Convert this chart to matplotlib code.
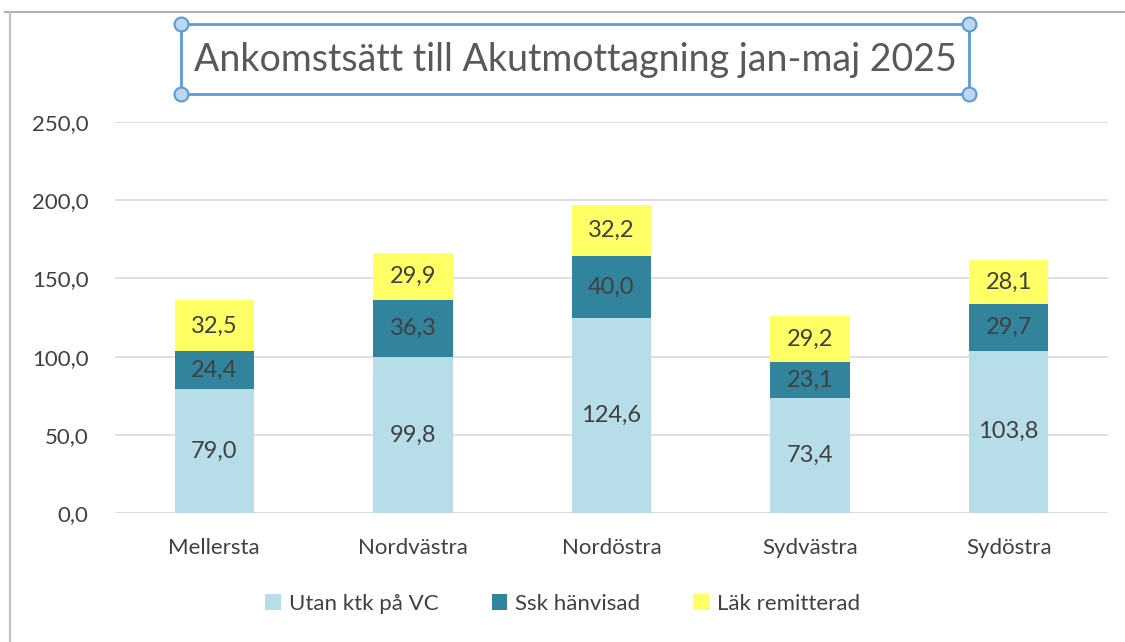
import numpy as np
import matplotlib.pyplot as plt
from matplotlib.patches import Rectangle
from matplotlib.lines import Line2D

plt.rcParams['font.family'] = ['Lato', 'DejaVu Sans']

regions = ['Mellersta', 'Nordvästra', 'Nordöstra', 'Sydvästra', 'Sydöstra']
utan_ktk = [79.0, 99.8, 124.6, 73.4, 103.8]
ssk_hanvisad = [24.4, 36.3, 40.0, 23.1, 29.7]
lak_remitterad = [32.5, 29.9, 32.2, 29.2, 28.1]
series_names = ['Utan ktk på VC', 'Ssk hänvisad', 'Läk remitterad']
yticks = [0, 50, 100, 150, 200, 250]

colors = ['#b7dde8', '#31849b', '#ffff66']
txt = '#404040'

fig = plt.figure(figsize=(11.25, 6.42), dpi=100)
ax = fig.add_axes([115 / 1125, 1 - 513 / 642, 993 / 1125, 391 / 642])

x = np.arange(len(regions))
bottom = np.zeros(len(regions))
for vals, name, c in zip([utan_ktk, ssk_hanvisad, lak_remitterad], series_names, colors):
    bars = ax.bar(x, vals, 0.4, bottom=bottom, color=c, label=name, zorder=2)
    for b, v in zip(bars, vals):
        ax.text(b.get_x() + b.get_width() / 2, b.get_y() + b.get_height() / 2,
                f'{v:.1f}'.replace('.', ','), ha='center', va='center',
                fontsize=17, color=txt, zorder=3)
    bottom += np.array(vals)

ax.set_xlim(-0.5, len(regions) - 0.5)
ax.set_ylim(0, 250)
ax.set_yticks(yticks)
ax.set_yticklabels([f'{t:.1f}'.replace('.', ',') for t in yticks], fontsize=16, color=txt)
ax.set_xticks(x)
ax.set_xticklabels(regions, fontsize=16, color=txt)
ax.tick_params(axis='x', length=0, pad=18)
ax.tick_params(axis='y', length=0, pad=19)
for s in ax.spines.values():
    s.set_visible(False)
ax.grid(axis='y', color='#d9d9d9', linewidth=1.2, zorder=0)
ax.set_axisbelow(True)
ax.axhline(0, color='#d9d9d9', linewidth=1.2, zorder=1)

leg = fig.legend(loc='center', bbox_to_anchor=(0.5, 1 - 604 / 642), ncol=3, frameon=False,
                 fontsize=16, handlelength=0.7, handleheight=0.7, columnspacing=2.4,
                 handletextpad=0.35)
for t in leg.get_texts():
    t.set_color(txt)

# outer frame lines
fig.add_artist(Line2D([5 / 1125, 1], [1 - 12 / 642] * 2, transform=fig.transFigure,
                      color='#b0b0b0', linewidth=1.5))
fig.add_artist(Line2D([10 / 1125] * 2, [0, 1 - 12 / 642], transform=fig.transFigure,
                      color='#c0c0c0', linewidth=1.5))

# title with selection box
fig.text(575 / 1125, 1 - 60 / 642, 'Ankomstsätt till Akutmottagning jan-maj 2025',
         ha='center', va='center', fontsize=27, color='#595959')
x0, x1 = 181 / 1125, 969 / 1125
y0, y1 = 1 - 94 / 642, 1 - 24 / 642
fig.add_artist(Rectangle((x0, y0), x1 - x0, y1 - y0, transform=fig.transFigure,
                         fill=False, edgecolor='#5b9bd5', linewidth=2))
for cx in (x0, x1):
    for cy in (y0, y1):
        fig.add_artist(Line2D([cx], [cy], transform=fig.transFigure, marker='o',
                              markersize=10, markerfacecolor='#bdd7ee',
                              markeredgecolor='#5b9bd5', markeredgewidth=1.5))

fig.savefig('out.png', dpi=100)
